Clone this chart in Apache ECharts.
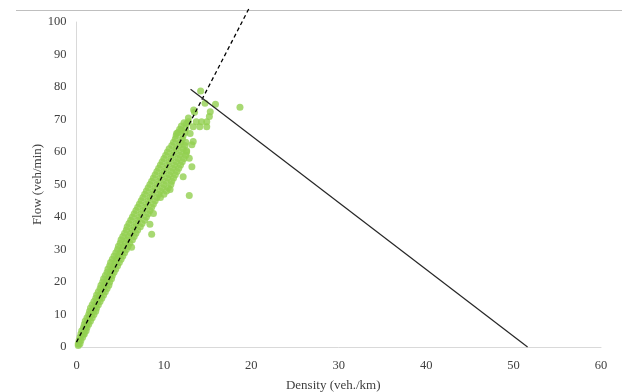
<!DOCTYPE html>
<html>
<head>
<meta charset="utf-8">
<script src="https://cdn.jsdelivr.net/npm/echarts@6/dist/echarts.min.js"></script>
<style>
  html, body { margin: 0; padding: 0; background: #fff; }
  #main { width: 622px; height: 392px; }
</style>
</head>
<body>
<div id="main"></div>
<script>
  // axis ticks
  var xTicks = [0, 10, 20, 30, 40, 50, 60];
  var yTicks = [0, 10, 20, 30, 40, 50, 60, 70, 80, 90, 100];

  // observed points, one row per flow level: [flow, [densities...]]
  var bandRows = [
    [0.5, [0.2]],
    [1, [0.2, 0.4]],
    [2, [0.3, 0.5]],
    [3, [0.4, 0.7]],
    [4, [0.5, 0.8, 0.9]],
    [5, [0.6, 0.9, 1.1]],
    [6, [0.8, 1.0, 1.2]],
    [7, [0.9, 1.2, 1.4]],
    [8, [1.0, 1.3, 1.6]],
    [9, [1.2, 1.5, 1.8]],
    [10, [1.4, 1.7, 2.0]],
    [11, [1.5, 1.9, 2.2]],
    [12, [1.6, 2.0, 2.3]],
    [13, [1.8, 2.2, 2.5]],
    [14, [2.0, 2.4, 2.7]],
    [15, [2.2, 2.6, 2.9]],
    [16, [2.3, 2.7, 3.1]],
    [17, [2.5, 2.9, 3.3]],
    [18, [2.7, 3.1, 3.5]],
    [19, [2.8, 3.2, 3.7]],
    [20, [3.0, 3.4, 3.8]],
    [21, [3.1, 3.6, 4.0]],
    [22, [3.3, 3.8, 4.1]],
    [23, [3.5, 3.9, 4.3]],
    [24, [3.6, 4.1, 4.5]],
    [25, [3.8, 4.3, 4.7]],
    [26, [3.9, 4.4, 4.9]],
    [27, [4.1, 4.6, 5.1]],
    [28, [4.3, 4.8, 5.3]],
    [29, [4.5, 5.0, 5.5]],
    [30, [4.7, 5.2, 5.7]],
    [31, [4.8, 5.4, 5.9]],
    [32, [5.0, 5.6, 6.1]],
    [33, [5.1, 5.8, 6.4]],
    [34, [5.3, 6.0, 6.6]],
    [35, [5.5, 6.2, 6.8]],
    [36, [5.7, 6.4, 7.0]],
    [37, [5.8, 6.6, 7.3]],
    [38, [6.0, 6.8, 7.5]],
    [39, [6.2, 7.0, 7.8]],
    [40, [6.4, 7.2, 8.0]],
    [41, [6.6, 7.4, 8.2]],
    [42, [6.8, 7.6, 8.4]],
    [43, [7.0, 7.8, 8.6]],
    [44, [7.2, 8.0, 8.8]],
    [45, [7.4, 8.2, 9.0]],
    [46, [7.6, 8.4, 9.2, 9.6]],
    [47, [7.8, 8.6, 9.4, 10.0]],
    [48, [8.0, 8.8, 9.6, 10.3]],
    [49, [8.2, 9.0, 9.8, 10.5]],
    [50, [8.4, 9.2, 10.0, 10.8]],
    [51, [8.6, 9.4, 10.2, 10.9]],
    [52, [8.8, 9.6, 10.4, 11.1]],
    [53, [9.0, 9.8, 10.6, 11.3]],
    [54, [9.2, 10.0, 10.8, 11.5]],
    [55, [9.4, 10.2, 11.0, 11.7]],
    [56, [9.6, 10.4, 11.2, 11.9]],
    [57, [9.8, 10.6, 11.4, 12.1]],
    [58, [10.0, 10.8, 11.6, 12.3]],
    [59, [10.2, 11.0, 11.8, 12.5]],
    [60, [10.4, 11.2, 12.0, 12.6]],
    [61, [10.6, 11.4, 12.2]],
    [62, [10.9, 11.7, 12.4]],
    [63, [11.1, 11.9, 12.5]],
    [64, [11.3, 12.1]],
    [65, [11.4, 12.2]],
    [66, [11.6, 12.4]],
    [67, [11.8]],
    [68, [12.0]],
    [69, [12.3]]
  ];

  // scattered points away from the main band [density, flow]
  var outliers = [
    [6.3, 30.7], [8.4, 37.8], [8.6, 34.7], [8.8, 41.1], [10.7, 48.5],
    [12.9, 46.6], [12.2, 52.4], [13.2, 55.5], [12.9, 58.1], [12.6, 60.4],
    [13.2, 62.2], [13.35, 63.2], [13.0, 65.7], [12.5, 67.3], [12.8, 69.3],
    [13.35, 67.8], [13.7, 69.3], [14.3, 69.3], [14.1, 67.8], [14.9, 67.8],
    [14.9, 69.3], [15.2, 70.9], [15.3, 72.4], [13.5, 72.2], [13.4, 72.9],
    [12.8, 70.5], [14.7, 75.0], [15.9, 74.7], [14.2, 78.8], [18.7, 73.8],
    [11.45, 65.7], [12.0, 66.8], [12.6, 68.8]
  ];

  // fitted lines, end points [density, flow]
  var freeFlowLine = [[0, 1.5], [19.8, 104.5]];
  var congestedLine = [[13.05, 79.3], [51.6, 0]];

  var points = [];
  bandRows.forEach(function (r) {
    r[1].forEach(function (d) { points.push([d, r[0]]); });
  });
  outliers.forEach(function (p) { points.push(p); });

  var chart = echarts.init(document.getElementById('main'), null, { renderer: 'canvas' });
  var font = 'Liberation Serif';
  var textColor = '#404040';

  var option = {
    animation: false,
    backgroundColor: '#fff',
    grid: { left: 76.5, right: 21, top: 22, bottom: 45, outerBoundsMode: 'none' },
    graphic: [{
      type: 'line',
      shape: { x1: 16, y1: 10.5, x2: 622, y2: 10.5 },
      style: { stroke: '#bfbfbf', lineWidth: 1 }
    }],
    xAxis: {
      type: 'value',
      min: xTicks[0],
      max: xTicks[xTicks.length - 1],
      interval: 10,
      name: 'Density (veh./km)',
      nameLocation: 'middle',
      nameGap: 29,
      nameMoveOverlap: false,
      nameTextStyle: { fontFamily: font, fontSize: 13, color: textColor, padding: [3, 11, 0, 0] },
      axisLine: { show: true, lineStyle: { color: '#d9d9d9', width: 1 } },
      axisTick: { show: false },
      splitLine: { show: false },
      axisLabel: { fontFamily: font, fontSize: 12.5, color: textColor, margin: 12 }
    },
    yAxis: {
      type: 'value',
      min: yTicks[0],
      max: yTicks[yTicks.length - 1],
      interval: 10,
      name: 'Flow (veh/min)',
      nameLocation: 'middle',
      nameRotate: 90,
      nameGap: 32,
      nameMoveOverlap: false,
      nameTextStyle: { fontFamily: font, fontSize: 13, color: textColor },
      axisLine: { show: true, lineStyle: { color: '#d9d9d9', width: 1 } },
      axisTick: { show: false },
      splitLine: { show: false },
      axisLabel: { fontFamily: font, fontSize: 12.5, color: textColor, margin: 10 }
    },
    series: [
      {
        type: 'scatter',
        data: points,
        symbolSize: 7,
        itemStyle: { color: '#92d050' },
        z: 2
      },
      {
        type: 'line',
        data: freeFlowLine,
        clip: false,
        symbol: 'none',
        lineStyle: { color: '#000', width: 1.3, type: [4, 3] },
        z: 3
      },
      {
        type: 'line',
        data: congestedLine,
        clip: false,
        symbol: 'none',
        lineStyle: { color: '#262626', width: 1.2 },
        z: 3
      }
    ]
  };
  chart.setOption(option);
</script>
</body>
</html>
